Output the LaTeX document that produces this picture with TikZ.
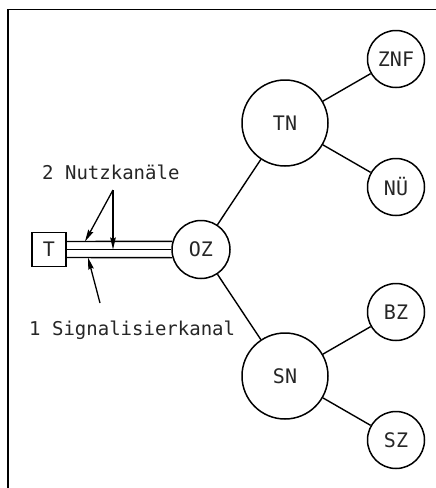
\documentclass[tikz,border=0pt]{standalone}
\usepackage{fontspec}
\setmonofont{DejaVu Sans Mono}
\usetikzlibrary{arrows.meta}
\begin{document}
\begin{tikzpicture}[x=1pt,y=-1pt,
  lbl/.style={font=\ttfamily\fontsize{19}{19}\selectfont, text=black!85},
  nlbl/.style={font=\ttfamily\fontsize{20}{20}\selectfont, text=black!85},
  big/.style={circle,draw,line width=1.5pt,minimum size=86pt,inner sep=0pt,nlbl},
  mid/.style={circle,draw,line width=1.5pt,minimum size=58pt,inner sep=0pt,nlbl},
  small/.style={circle,draw,line width=1.5pt,minimum size=57pt,inner sep=0pt,nlbl},
  box/.style={draw,line width=1.5pt,minimum size=34pt,inner sep=0pt,nlbl},
  conn/.style={line width=1.4pt},
  pointer/.style={line width=1.3pt,-{Stealth[length=12pt,width=5.5pt,inset=1.5pt]}}
]
\useasboundingbox (0,0) rectangle (436,488);
\fill[white] (0,0) rectangle (436,488);
% frame
\draw[line width=1.4pt] (8,488) -- (8,9.5) -- (436,9.5);
% nodes
\node[box] (T) at (49,249.5) {T};
\node[mid] (OZ) at (201,249.5) {OZ};
\node[big] (TN) at (285,123) {TN};
\node[big] (SN) at (285,376) {SN};
\node[small] (ZNF) at (396,59) {ZNF};
\node[small] (NU) at (396,187) {NÜ};
\node[small] (BZ) at (396,312) {BZ};
\node[small] (SZ) at (396,440) {SZ};
% channels
\draw[conn] ([yshift=8pt]T.east) -- (OZ.164);
\draw[conn] (T.east) -- (OZ.west);
\draw[conn] ([yshift=-8pt]T.east) -- (OZ.196);
% connectors
\draw[conn] (OZ) -- (TN);
\draw[conn] (OZ) -- (SN);
\draw[conn] (TN) -- (ZNF);
\draw[conn] (TN) -- (NU);
\draw[conn] (SN) -- (BZ);
\draw[conn] (SN) -- (SZ);
% labels
\node[lbl,anchor=base west,inner sep=0pt] (nutz) at (42,179) {2 Nutzkanäle};
\node[lbl,anchor=base west,inner sep=0pt] (sig) at (29,335) {1 Signalisierkanal};
\coordinate (apex) at (113,190);
\coordinate (tipA) at (85,241.5);
\coordinate (tipB) at (113,249.5);
\coordinate (sigtail) at (100,303);
\coordinate (tipC) at (88,257.5);
\draw[pointer] (apex) -- (tipA);
\draw[pointer] (apex) -- (tipB);
\draw[pointer] (sigtail) -- (tipC);
\end{tikzpicture}
\end{document}
